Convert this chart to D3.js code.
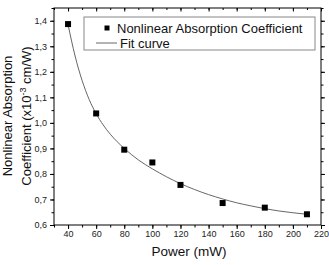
<!DOCTYPE html>
<html><head><meta charset="utf-8">
<script src="https://cdn.jsdelivr.net/npm/d3@7"></script>
<style>body{margin:0;background:#fff}svg{display:block;font-family:Arial,"Liberation Sans",sans-serif}</style>
</head><body>
<svg id="c" width="329" height="265"></svg>
<script>
const powers = [40, 60, 80, 100, 120, 150, 180, 210];
const coeffs = [1.387, 1.037, 0.895, 0.845, 0.757, 0.686, 0.668, 0.642];
const fitX = [40, 45, 50, 55, 60, 65, 70, 75, 80, 90, 100, 110, 120, 130, 140, 150, 160, 170, 180, 190, 200, 210];
const fitY = [1.385, 1.262, 1.166, 1.092, 1.036, 0.992, 0.956, 0.926, 0.900, 0.855, 0.820, 0.789, 0.762, 0.739, 0.719, 0.702, 0.687, 0.675, 0.664, 0.655, 0.648, 0.642];
const xTicks = [40, 60, 80, 100, 120, 140, 160, 180, 200, 220];
const yTicks = [0.6, 0.7, 0.8, 0.9, 1.0, 1.1, 1.2, 1.3, 1.4];
const legendLabels = ["Nonlinear Absorption Coefficient", "Fit curve"];

const svg = d3.select("#c");
const L = 54, R = 321, T = 8, B = 225;
const x = d3.scaleLinear().domain([30, 220]).range([L, R]);
const y = d3.scaleLinear().domain([0.6, 1.45]).range([B, T]);
const fmt = d => d3.format(".1f")(d).replace(".", ",");

const xMinor = d3.range(30, 221, 10);
const yMinor = d3.range(0.6, 1.451, 0.05);

// axes
const gB = svg.append("g").attr("transform", `translate(0,${B})`)
  .call(d3.axisBottom(x).tickValues(xTicks).tickSize(4).tickPadding(2).tickFormat(d3.format("d")));
const gBm = svg.append("g").attr("transform", `translate(0,${B})`)
  .call(d3.axisBottom(x).tickValues(xMinor).tickSize(2.5).tickFormat(""));
const gL = svg.append("g").attr("transform", `translate(${L},0)`)
  .call(d3.axisLeft(y).tickValues(yTicks).tickSize(4).tickPadding(3).tickFormat(fmt));
const gLm = svg.append("g").attr("transform", `translate(${L},0)`)
  .call(d3.axisLeft(y).tickValues(yMinor).tickSize(2.5).tickFormat(""));
const gT = svg.append("g").attr("transform", `translate(0,${T})`)
  .call(d3.axisBottom(x).tickValues(xTicks).tickSize(3.5).tickFormat(""));
const gTm = svg.append("g").attr("transform", `translate(0,${T})`)
  .call(d3.axisBottom(x).tickValues(xMinor).tickSize(2).tickFormat(""));
const gR = svg.append("g").attr("transform", `translate(${R},0)`)
  .call(d3.axisRight(y).tickValues(yTicks).tickSize(4).tickFormat(""));
const gRm = svg.append("g").attr("transform", `translate(${R},0)`)
  .call(d3.axisRight(y).tickValues(yMinor).tickSize(2.5).tickFormat(""));
svg.selectAll(".domain").remove();
svg.selectAll(".tick line").attr("stroke", "#000").attr("stroke-width", 1);
svg.selectAll(".tick text").attr("font-size", 9).attr("fill", "#222").attr("font-family", "Arial, 'Liberation Sans', sans-serif");

svg.append("rect").attr("x", L).attr("y", T).attr("width", R - L).attr("height", B - T)
  .attr("fill", "none").attr("stroke", "#000").attr("stroke-width", 1);

// fit curve
const line = d3.line().x((d, i) => x(fitX[i])).y(d => y(d)).curve(d3.curveMonotoneX);
svg.append("path").datum(fitY).attr("d", line).attr("fill", "none").attr("stroke", "#555").attr("stroke-width", 0.9);

// points
svg.selectAll("rect.pt").data(powers).enter().append("rect").attr("class", "pt")
  .attr("x", (d) => x(d) - 3).attr("y", (d, i) => y(coeffs[i]) - 3)
  .attr("width", 6).attr("height", 6).attr("fill", "#000");

// legend
svg.append("rect").attr("x", 84).attr("y", 17).attr("width", 231).attr("height", 33)
  .attr("fill", "#fff").attr("stroke", "#888").attr("stroke-width", 1);
svg.append("rect").attr("x", 104.5).attr("y", 25.5).attr("width", 5).attr("height", 5).attr("fill", "#000");
svg.append("text").attr("x", 117).attr("y", 33).attr("font-size", 13).attr("fill", "#111").text(legendLabels[0]);
svg.append("line").attr("x1", 96).attr("x2", 117).attr("y1", 43).attr("y2", 43).attr("stroke", "#555").attr("stroke-width", 0.9);
svg.append("text").attr("x", 120).attr("y", 47.5).attr("font-size", 13).attr("fill", "#111").text(legendLabels[1]);

// axis titles
svg.append("text").attr("x", 189).attr("y", 256).attr("text-anchor", "middle").attr("font-size", 13.5).attr("fill", "#111").text("Power (mW)");
const yt = svg.append("text").attr("transform", "translate(12,116) rotate(-90)").attr("text-anchor", "middle").attr("font-size", 13).attr("fill", "#111");
yt.append("tspan").attr("x", 0).attr("y", 0).text("Nonlinear Absorption");
const t2 = yt.append("tspan").attr("x", 0).attr("y", 18.5);
t2.append("tspan").text("Coefficient (x10");
t2.append("tspan").attr("dy", -5).attr("font-size", 9).text("-3");
t2.append("tspan").attr("dy", 5).text(" cm/W)");
</script>
</body></html>
